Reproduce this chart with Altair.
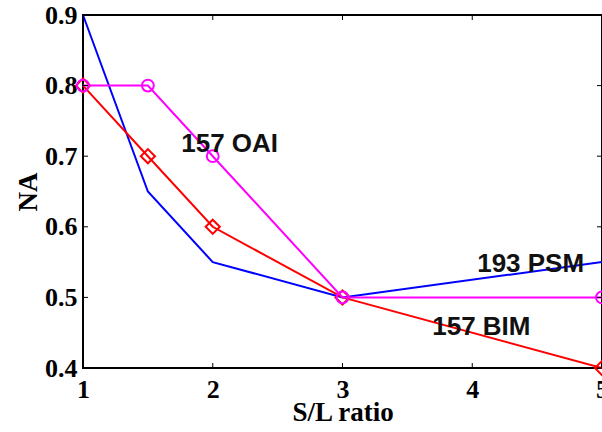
import altair as alt
import pandas as pd

# S/L ratio values and NA for each illumination setting
sl_ratio = [1, 1.5, 2, 3, 5]
na_psm = [0.9, 0.65, 0.55, 0.5, 0.55]
na_bim = [0.8, 0.7, 0.6, 0.5, 0.4]
na_oai = [0.8, 0.8, 0.7, 0.5, 0.5]

x_ticks = [1, 2, 3, 4, 5]
y_ticks = [0.4, 0.5, 0.6, 0.7, 0.8, 0.9]

label_text = ["157 OAI", "193 PSM", "157 BIM"]
label_x = [2.13, 4.45, 4.07]
label_y = [0.717, 0.547, 0.458]

df = pd.DataFrame({"x": sl_ratio, "psm": na_psm, "bim": na_bim, "oai": na_oai})
labels = pd.DataFrame({"t": label_text, "x": label_x, "y": label_y})
xt = pd.DataFrame({"x": x_ticks})
yt = pd.DataFrame({"y": y_ticks})

W, H = 519, 353
xs = alt.Scale(domain=[1, 5], nice=False, zero=False)
ys = alt.Scale(domain=[0.4, 0.9], nice=False, zero=False)

serif = "Liberation Serif"
xaxis = alt.Axis(values=x_ticks, format="d", ticks=False, domain=False, grid=False,
                 labelFont=serif, labelFontWeight="bold", labelFontSize=26, labelColor="black",
                 labelPadding=8, title="S/L ratio", titleFont=serif, titleFontWeight="bold",
                 titleFontSize=27, titleColor="black", titleY=52, titleBaseline="alphabetic",
                 labelFlush=False)
yaxis = alt.Axis(values=y_ticks, ticks=False, domain=False, grid=False, labelFont=serif,
                 labelFontWeight="bold", labelFontSize=26, labelColor="black", labelPadding=6,
                 format=".1f", title="NA", titleFont=serif, titleFontWeight="bold",
                 titleFontSize=27, titleColor="black", titlePadding=2, labelFlush=False)

base = alt.Chart(df)

psm = base.mark_line(color="#0000FF", strokeWidth=2).encode(
    x=alt.X("x:Q", scale=xs, axis=xaxis), y=alt.Y("psm:Q", scale=ys, axis=yaxis))
oai = base.mark_line(color="#FF00FF", strokeWidth=2, point=alt.OverlayMarkDef(
    shape="circle", filled=False, size=140, stroke="#FF00FF", strokeWidth=2)).encode(
    x=alt.X("x:Q", scale=xs), y=alt.Y("oai:Q", scale=ys))
bim = base.mark_line(color="#FF0000", strokeWidth=2, point=alt.OverlayMarkDef(
    shape="diamond", filled=False, size=200, stroke="#FF0000", strokeWidth=2)).encode(
    x=alt.X("x:Q", scale=xs), y=alt.Y("bim:Q", scale=ys))

txt = alt.Chart(labels).mark_text(font="Liberation Sans", fontWeight="bold", fontSize=26,
                                  color="#111111").encode(
    x=alt.X("x:Q", scale=xs), y=alt.Y("y:Q", scale=ys), text="t:N")

# inward tick marks on all four sides
tk = 5
xb = alt.Chart(xt).mark_rule(color="black", strokeWidth=1).encode(
    x=alt.X("x:Q", scale=xs), y=alt.value(H), y2=alt.value(H - tk))
xtop = alt.Chart(xt).mark_rule(color="black", strokeWidth=1).encode(
    x=alt.X("x:Q", scale=xs), y=alt.value(0), y2=alt.value(tk))
yl = alt.Chart(yt).mark_rule(color="black", strokeWidth=1).encode(
    y=alt.Y("y:Q", scale=ys), x=alt.value(0), x2=alt.value(tk))
yr = alt.Chart(yt).mark_rule(color="black", strokeWidth=1).encode(
    y=alt.Y("y:Q", scale=ys), x=alt.value(W), x2=alt.value(W - tk))

chart = alt.layer(psm, bim, oai, txt, xb, xtop, yl, yr).properties(
    width=W, height=H,
    autosize=alt.AutoSizeParams(type="none"),
    padding={"left": 83, "top": 15, "right": 0, "bottom": 64},
    background="white",
).configure_view(stroke="black", strokeWidth=2)

chart.save("out.html", embed_options={"renderer": "svg", "actions": False})
